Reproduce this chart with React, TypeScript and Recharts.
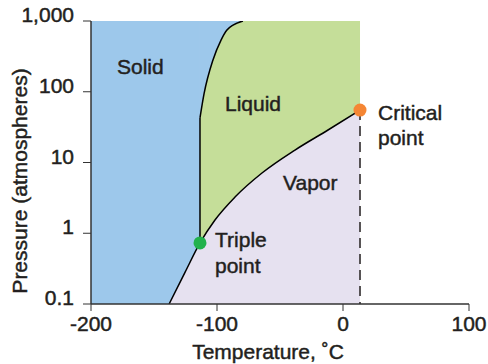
import React from "react";
import { ComposedChart, XAxis, YAxis, Area, Line, Scatter } from "recharts";

// axis ticks
const X_TICKS = [-200, -100, 0, 100];
const Y_TICKS = [0.1, 1, 10, 100, 1000];

// sublimation + vaporization curve (°C, atm)
const VAPOR_T = [-138, -125.4, -113.5, -101.6, -85.7, -64.3, -38.1, -11.9, 13.5];
const VAPOR_P = [0.1, 0.28, 0.73, 1.54, 3.25, 7.1, 15, 28.8, 55];

// melting curve above the vertical part
const MELT_T = [-113.5, -110.3, -103.2, -96.8, -92.1, -87.3, -79.4];
const MELT_P = [42.6, 93, 281, 538, 746, 877, 1000];

const TRIPLE = { t: -113.5, p: 0.73 };
const CRITICAL = { t: 13.5, p: 55 };
const T_MIN = -200;
const P_MIN = 0.1;
const P_MAX = 1000;

const BLUE = "#9dc8eb";
const GREEN = "#c5de99";
const LAVENDER = "#e6e1f0";
const INK = "#231f20";

const vaporLine = VAPOR_T.map((t, i) => ({ t, p: VAPOR_P[i] }));
const vaporFill = VAPOR_T.map((t, i) => ({ t, range: [P_MIN, VAPOR_P[i]] }));
const meltCurve = MELT_T.map((t, i) => ({ t, p: MELT_P[i] }));
const meltFill = MELT_T.map((t, i) => ({ t, range: [MELT_P[i], P_MAX] }));
const meltVertical = [
  { t: TRIPLE.t, p: TRIPLE.p },
  { t: MELT_T[0], p: MELT_P[0] },
];
const solidRect = [
  { t: T_MIN, range: [P_MIN, P_MAX] },
  { t: TRIPLE.t, range: [P_MIN, P_MAX] },
];
const liquidRect = [
  { t: TRIPLE.t, range: [P_MIN, P_MAX] },
  { t: CRITICAL.t, range: [P_MIN, P_MAX] },
];
const dashed = [
  { t: CRITICAL.t, p: CRITICAL.p },
  { t: CRITICAL.t, p: P_MIN },
];

const font: React.CSSProperties = {
  fontFamily: "'Liberation Sans', Arial, sans-serif",
  fontSize: 21,
  fill: INK,
  stroke: INK,
  strokeWidth: 0.45,
};

const fmtP = (v: number) => (v >= 1000 ? v.toLocaleString("en-US") : String(v));

const YTick = ({ x, y, payload }: any) => (
  <text x={x} y={y + 1} textAnchor="end" style={font}>
    {fmtP(payload.value)}
  </text>
);

const XTick = ({ x, y, payload }: any) => (
  <text x={x} y={y + 20} textAnchor="middle" style={font}>
    {payload.value}
  </text>
);

const dot = (color: string) => (props: any) =>
  <circle cx={props.cx} cy={props.cy} r={6.5} fill={color} />;

export default function App() {
  return (
    <div style={{ position: "absolute", left: 0, top: 0, width: 488, height: 364 }}>
      <ComposedChart
        width={488}
        height={364}
        margin={{ top: 21, right: 19, bottom: 0, left: 0 }}
      >
        <XAxis
          type="number"
          dataKey="t"
          domain={[-200, 100]}
          ticks={X_TICKS}
          allowDataOverflow
          height={60}
          tickSize={7}
          tickMargin={0}
          axisLine={{ stroke: "#333", strokeWidth: 1.5 }}
          tickLine={{ stroke: "#333", strokeWidth: 1 }}
          tick={<XTick />}
        />
        <YAxis
          type="number"
          scale="log"
          domain={[P_MIN, P_MAX]}
          ticks={Y_TICKS}
          allowDataOverflow
          width={91}
          tickSize={8}
          tickMargin={9}
          axisLine={{ stroke: "#333", strokeWidth: 1.5 }}
          tickLine={{ stroke: "#333", strokeWidth: 1 }}
          tick={<YTick />}
        />
        <Area data={liquidRect} dataKey="range" type="linear" fill={GREEN} fillOpacity={1} stroke="none" isAnimationActive={false} />
        <Area data={solidRect} dataKey="range" type="linear" fill={BLUE} fillOpacity={1} stroke="none" isAnimationActive={false} />
        <Area data={meltFill} dataKey="range" type="monotone" fill={BLUE} fillOpacity={1} stroke="none" isAnimationActive={false} />
        <Area data={vaporFill} dataKey="range" type="monotone" fill={LAVENDER} fillOpacity={1} stroke="none" isAnimationActive={false} />
        <Line data={meltVertical} dataKey="p" type="linear" stroke="#000" strokeWidth={1.5} dot={false} isAnimationActive={false} />
        <Line data={meltCurve} dataKey="p" type="monotone" stroke="#000" strokeWidth={1.5} dot={false} isAnimationActive={false} />
        <Line data={vaporLine} dataKey="p" type="monotone" stroke="#000" strokeWidth={1.5} dot={false} isAnimationActive={false} />
        <Line data={dashed} dataKey="p" type="linear" stroke={INK} strokeWidth={1.5} strokeDasharray="10 6" dot={false} isAnimationActive={false} />
        <Scatter data={[TRIPLE]} dataKey="p" shape={dot("#22b24c")} isAnimationActive={false} />
        <Scatter data={[CRITICAL]} dataKey="p" shape={dot("#f58634")} isAnimationActive={false} />
      </ComposedChart>
      <svg width={488} height={364} style={{ position: "absolute", left: 0, top: 0, pointerEvents: "none" }}>
        <text x={117} y={74} style={font}>Solid</text>
        <text x={225} y={111} style={font}>Liquid</text>
        <text x={283} y={190} style={font}>Vapor</text>
        <text x={215} y={247} style={font}>Triple</text>
        <text x={215} y={273} style={font}>point</text>
        <text x={378} y={120} style={font}>Critical</text>
        <text x={378} y={145} style={font}>point</text>
        <text x={268} y={359} textAnchor="middle" style={font}>Temperature, ˚C</text>
        <text transform="translate(27,181) rotate(-90)" textAnchor="middle" style={font}>
          Pressure (atmospheres)
        </text>
      </svg>
    </div>
  );
}
